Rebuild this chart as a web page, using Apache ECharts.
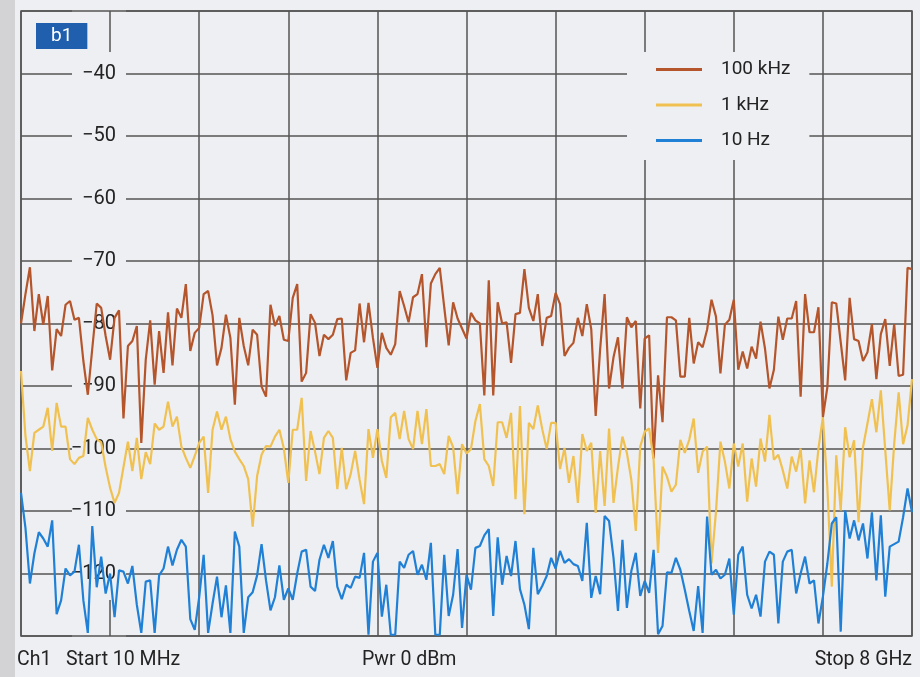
<!DOCTYPE html>
<html><head><meta charset="utf-8">
<script src="https://cdn.jsdelivr.net/npm/echarts@6/dist/echarts.min.js"></script>
<style>html,body{margin:0;padding:0;background:#eeeff3}#c{width:920px;height:677px}</style>
</head><body><div id="c"></div>
<script>
// y axis (dB), x axis = sweep point index (201 points, 10 divisions)
const yMin = -130, yMax = -30, yStep = 10;
const sweepPoints = 201, xStep = 20;
const legendNames = ['100 kHz', '1 kHz', '10 Hz'];
const markerLabel = 'b1';
const footerLabels = ['Ch1', 'Start 10 MHz', 'Pwr 0 dBm', 'Stop 8 GHz'];

const trace100kHz = [
-80,-75.3,-71,-81.2,-75.3,-80.2,-75.6,-87.5,-80.9,-82,
-77,-76.4,-79.4,-79.1,-86,-91.4,-84,-76.8,-77.5,-82,
-85.8,-79.1,-77.9,-95.2,-83.6,-82.8,-80.4,-99.1,-85.8,-79.5,
-89.8,-81.2,-87.9,-78.2,-86.7,-77.6,-79.1,-73.7,-84.4,-81.5,
-80.7,-75.3,-74.8,-78.7,-86.7,-83.9,-78.6,-82.3,-93,-79.1,
-83.6,-86.7,-81,-81.8,-90.1,-91.7,-77,-80.4,-78.8,-82.6,
-82.8,-75.9,-73.7,-89.3,-87.9,-78.5,-79.9,-85.2,-81.8,-82.5,
-81.8,-79.3,-79.2,-89.1,-84.7,-84.3,-76.8,-83,-76.7,-82.3,
-87.1,-81.5,-83.9,-85,-83.3,-74.8,-77.2,-79.8,-75.8,-75.3,
-72.1,-83.8,-73.6,-72.1,-71.1,-77.4,-83.5,-76.6,-79.2,-80.8,
-82.4,-78.3,-79.5,-80,-91.5,-73.1,-91.5,-76.6,-80,-79.8,
-86.3,-78.5,-78.3,-71.3,-77.5,-79.6,-75.3,-83.6,-79.1,-78.8,
-75.1,-76.9,-85.2,-83.9,-83.1,-79.1,-82,-76.9,-80.9,-94.8,
-84.1,-75.3,-90.4,-85.4,-82.2,-90.4,-79,-80.6,-79.6,-93.6,
-82.4,-81.9,-101.6,-88.3,-95.8,-79,-79,-79.5,-88.5,-88.5,
-79.1,-86.4,-83,-83.8,-81,-76.2,-78.9,-88,-80.2,-79.4,
-76.2,-87.4,-84.5,-87.2,-83.7,-85.6,-79.7,-84,-90.4,-87.4,
-78.9,-82.6,-79.2,-79.2,-76.4,-91.7,-75.3,-81.4,-81.4,-77.4,
-95,-90.2,-76.6,-76.8,-83,-89.1,-75.9,-82.5,-82.8,-86,
-84.6,-80.1,-88.9,-81.7,-79.3,-86.8,-80.1,-88.4,-88.2,-71.1,-71.3];

const trace1kHz = [
-87.6,-98,-103.6,-97.5,-97,-96.5,-93.5,-100.4,-92.7,-96.5,
-96.5,-101.7,-102.5,-101.5,-101.2,-95.1,-97,-98.5,-99,-103,
-106.3,-108.7,-107.1,-103,-98.9,-103.6,-98.3,-104.9,-100.6,-102.5,
-96,-97,-96.5,-92.5,-96.5,-94.9,-99.7,-101.5,-103.1,-101.2,
-99.1,-98.1,-107.1,-97,-94.1,-97,-94.9,-98.5,-100.5,-101.7,
-102.8,-104.9,-112.5,-104.4,-101,-99.6,-99.7,-98.1,-97,-100,
-105.5,-97,-97,-91.9,-105.2,-97.2,-100.5,-104.1,-98.3,-97.2,
-98.3,-106.5,-99.9,-106.5,-104.1,-100.4,-105,-108.9,-96.9,-101.5,
-96.9,-102,-104.7,-95,-94.3,-98.5,-94,-98.5,-100.1,-94,
-99.3,-93.7,-102.8,-102.8,-102.5,-104.1,-98,-99.8,-107.3,-99.3,
-100.8,-100.1,-95.6,-92.9,-101.7,-102.8,-106,-95.8,-95.8,-98.3,
-94.3,-108.1,-93.2,-110.5,-95.9,-96.9,-93.1,-96.9,-100.1,-95.9,
-95.9,-103.3,-99.9,-105.5,-101.2,-108.7,-97.7,-100.4,-99.1,-110.3,
-100.4,-109.2,-96.8,-108.7,-103,-98.1,-100.7,-105,-113.2,-99.7,
-97.3,-96.8,-101.8,-116.7,-102.9,-104.5,-106.9,-105.8,-98.6,-100.7,
-98.6,-95.2,-103.9,-100.5,-99.7,-118.4,-110.1,-98.9,-102.1,-106.4,
-99.2,-102.9,-99.2,-108.5,-101.6,-106.1,-98.4,-102.1,-94.6,-101.8,
-101,-103.5,-106.4,-101.3,-103.7,-100,-108.8,-101.9,-107,-100,
-95,-106.2,-122.1,-101.1,-109.9,-96.6,-101.4,-98.7,-111.8,-99.8,
-96,-92.1,-97.4,-90.7,-100.3,-109.9,-99.3,-91,-99.3,-96.3,-88.9];

const trace10Hz = [
-107.1,-112.7,-121.6,-116.8,-113.4,-114.4,-115.7,-111.5,-126.5,-124.3,
-119.2,-120.3,-119.7,-115.4,-124.3,-129.5,-112.4,-122.2,-117.3,-123.2,
-120,-127,-119.5,-119.7,-121.6,-118.8,-125,-129.5,-121.3,-121.1,
-129.5,-120.3,-119.2,-115.7,-118.7,-116.2,-114.6,-115.7,-127.3,-129,
-123.8,-117,-129.5,-124.8,-120.5,-127,-121.9,-129.5,-113.3,-115.7,
-129.5,-123.8,-123,-120.3,-115.3,-121.1,-125.9,-123.8,-118.7,-124.2,
-122.4,-124.2,-120,-116.5,-116.2,-122.1,-122.8,-117.8,-115.4,-117.5,
-114.8,-122.1,-124.1,-121.8,-122.3,-120.5,-120.7,-116.7,-129.8,-118.1,
-116.7,-126.9,-121.8,-129.8,-129.8,-118.1,-119.1,-117,-116.4,-120.2,
-118.6,-121,-115.1,-129.8,-129.8,-117,-126.8,-123.4,-116.1,-128.7,
-120.2,-122.6,-115.9,-115.6,-113.9,-112.9,-126.8,-114.2,-121.8,-117.2,
-120.4,-114.8,-122.5,-125,-128.9,-115.9,-123.3,-122,-120.4,-117.5,
-119.2,-116.4,-118.3,-117.7,-118.5,-118.8,-121.2,-111.9,-123.9,-120.4,
-123.3,-110.8,-111.6,-117.5,-126,-114.6,-125.5,-119.6,-116.7,-123.6,
-121.2,-123.1,-116.2,-129.7,-128.4,-119.8,-119.9,-117.5,-119.4,-122.6,
-126,-129.2,-122,-129.5,-110.9,-120.2,-119.4,-120.8,-120.2,-117.6,
-126.6,-117,-115.7,-123.4,-125.6,-123.4,-126.9,-118.1,-116.5,-117,
-128,-118.1,-116.5,-116.2,-123.2,-120,-117.3,-121.6,-121.1,-128,
-123.7,-118.4,-112,-111,-129.3,-109.9,-114.4,-111.5,-114.7,-112,
-117.6,-110.2,-121.1,-110.7,-123.7,-115.7,-115.3,-114.9,-111,-106.4,-110.2];

const colors = ['#b4552b', '#f0c150', '#1f80d6'];
const bg = '#eeeff3';
const gridColor = '#555';
const font = 'Roboto, "Noto Sans", sans-serif';
const textColor = '#232323';

const sweepIndex = Array.from({length: sweepPoints}, (_, i) => String(i));
const traces = [trace100kHz, trace1kHz, trace10Hz];
const footerPos = [{left: 17}, {left: 66}, {left: 362}, {right: 8}];
const hidden = {axisLine: {show: false}, axisTick: {show: false}, axisLabel: {show: false}};
const gridLine = {show: true, lineStyle: {color: gridColor, width: 1.5}};
const blankScaleDiv = 1; // division hidden behind the dB scale

// plot grids: 0 = main (traces, border, vertical lines),
// 1/2 = horizontal lines left/right of the dB scale column,
// 3/4 = the short pieces of the vertical line behind the scale
const grids = [
  {left: 21, top: 11, width: 891, height: 625, show: true, borderColor: gridColor, borderWidth: 1.5},
  {left: 21, top: 11, width: 51, height: 625},
  {left: 126, top: 11, width: 786, height: 625},
  {left: 21, top: 11, width: 891, height: 41},
  {left: 21, top: 600, width: 891, height: 36}
];

const xAxes = [
  Object.assign({type: 'category', data: sweepIndex, boundaryGap: false, gridIndex: 0,
    splitLine: Object.assign({interval: i => i % xStep === 0 && i !== xStep * blankScaleDiv}, gridLine)}, hidden),
  Object.assign({type: 'value', gridIndex: 1, splitLine: {show: false}}, hidden),
  Object.assign({type: 'value', gridIndex: 2, splitLine: {show: false}}, hidden),
  Object.assign({type: 'category', data: sweepIndex, boundaryGap: false, gridIndex: 3,
    splitLine: Object.assign({interval: i => i === xStep * blankScaleDiv}, gridLine)}, hidden),
  Object.assign({type: 'category', data: sweepIndex, boundaryGap: false, gridIndex: 4,
    splitLine: Object.assign({interval: i => i === xStep * blankScaleDiv}, gridLine)}, hidden)
];

const yAxes = [
  {type: 'value', min: yMin, max: yMax, interval: yStep, gridIndex: 0,
   axisLine: {show: false}, axisTick: {show: false}, splitLine: {show: false},
   axisLabel: {inside: true, margin: 95, align: 'right', showMinLabel: false, showMaxLabel: false,
     formatter: v => String(v).replace('-', '\u2212'), color: textColor, fontSize: 20, fontFamily: font}},
  Object.assign({type: 'value', min: yMin, max: yMax, interval: yStep, gridIndex: 1, splitLine: gridLine}, hidden),
  Object.assign({type: 'value', min: yMin, max: yMax, interval: yStep, gridIndex: 2, splitLine: gridLine}, hidden),
  Object.assign({type: 'value', gridIndex: 3, splitLine: {show: false}}, hidden),
  Object.assign({type: 'value', gridIndex: 4, splitLine: {show: false}}, hidden)
];

const chart = echarts.init(document.getElementById('c'), null, {renderer: 'canvas'});
chart.setOption({
  backgroundColor: bg,
  animation: false,
  textStyle: {fontFamily: font},
  graphic: {elements: [{type: 'rect', left: 0, top: 0, shape: {width: 15, height: 677}, style: {fill: '#d3d3d5'}}]},
  title: [
    {text: markerLabel, left: 36, top: 23, backgroundColor: '#1f5fae', padding: [3, 15, 3, 15],
     textStyle: {color: '#ffffff', fontSize: 19, fontWeight: 'normal', fontFamily: font, lineHeight: 20}}
  ].concat(footerLabels.map((t, k) => Object.assign({
     text: t, top: 650, padding: 0,
     textStyle: {color: textColor, fontSize: 19.5, fontWeight: 'normal', fontFamily: font, lineHeight: 20}
  }, footerPos[k]))),
  legend: {
    data: legendNames, orient: 'vertical', left: 627, top: 52, z: 11,
    padding: [8, 19, 10, 29], itemGap: 16.5, itemWidth: 46, itemHeight: 3,
    icon: 'rect', backgroundColor: bg, align: 'left',
    textStyle: {fontSize: 19, color: textColor, fontFamily: font, padding: [0, 0, 0, 14]}
  },
  grid: grids,
  xAxis: xAxes,
  yAxis: yAxes,
  series: traces.map((t, k) => ({
    name: legendNames[k], type: 'line', data: t, symbol: 'none', xAxisIndex: 0, yAxisIndex: 0,
    lineStyle: {color: colors[k], width: 2.2}, itemStyle: {color: colors[k]}, z: 10
  }))
});
</script></body></html>
